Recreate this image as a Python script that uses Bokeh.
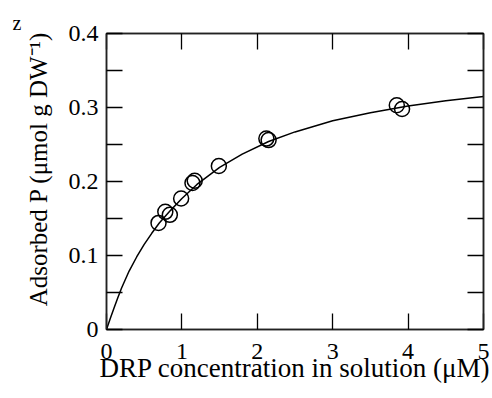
from bokeh.plotting import figure
from bokeh.models import LinearAxis, Range1d, FixedTicker, CustomJSTickFormatter
from bokeh.embed import file_html
from bokeh.resources import INLINE

# Measured points (DRP concentration µM, adsorbed P µmol g DW^-1)
obs_x = [0.69, 0.78, 0.84, 0.99, 1.14, 1.17, 1.49, 2.12, 2.15, 3.85, 3.92]
obs_y = [0.144, 0.159, 0.155, 0.177, 0.198, 0.201, 0.221, 0.258, 0.256, 0.303, 0.298]

# Fitted curve
curve_x = [0, 0.05, 0.1, 0.15, 0.2, 0.3, 0.4, 0.5, 0.6, 0.7, 0.85, 1.0, 1.2, 1.5,
           1.8, 2.15, 2.5, 3.0, 3.5, 4.0, 4.5, 5.0]
curve_y = [0, 0.015, 0.029, 0.043, 0.056, 0.079, 0.098, 0.115, 0.130, 0.144, 0.161,
           0.177, 0.196, 0.219, 0.237, 0.254, 0.267, 0.282, 0.293, 0.302, 0.309, 0.315]

x_ticks = [0, 1, 2, 3, 4, 5]
y_ticks = [0, 0.1, 0.2, 0.3, 0.4]
y_minor = [0.05, 0.15, 0.25, 0.35]

FONT = "Liberation Serif"
NB = "\u00a0"

p = figure(width=492, height=398, x_range=Range1d(0, 5), y_range=Range1d(0, 0.4),
           output_backend="svg", toolbar_location=None,
           min_border_left=106, min_border_right=9, min_border_top=33, min_border_bottom=69)
p.background_fill_color = "white"
p.border_fill_color = "white"
p.xgrid.visible = False
p.ygrid.visible = False
p.outline_line_color = "#222222"
p.outline_line_width = 1.5

p.title.text = "z"
p.title.align = "left"
p.title.offset = -94
p.title.text_font = FONT
p.title.text_font_size = "20px"
p.title.text_font_style = "normal"
p.title.text_color = "black"
p.title.standoff = 0

def style_axis(ax):
    ax.axis_line_color = "#222222"
    ax.axis_line_width = 1.5
    ax.major_tick_in = 16
    ax.major_tick_out = 0
    ax.minor_tick_in = 16
    ax.minor_tick_out = 0
    ax.major_tick_line_color = "black"
    ax.minor_tick_line_color = "black"
    ax.major_tick_line_width = 1.3
    ax.minor_tick_line_width = 1.3
    ax.major_label_text_font = FONT
    ax.major_label_text_font_size = "24px"
    ax.major_label_text_color = "black"
    ax.axis_label_text_font = FONT
    ax.axis_label_text_font_size = "26px"
    ax.axis_label_text_font_style = "normal"
    ax.axis_label_text_color = "black"

xa = p.xaxis[0]
style_axis(xa)
xa.ticker = FixedTicker(ticks=x_ticks)
xa.axis_label = "DRP concentration in solution (\u03bcM)"
xa.axis_label_text_font_size = "27px"
xa.major_label_standoff = 14
xa.axis_label_standoff = -9

ya = p.yaxis[0]
style_axis(ya)
ya.ticker = FixedTicker(ticks=y_ticks, minor_ticks=y_minor)
ya.formatter = CustomJSTickFormatter(code="return tick == 0 ? '0' : tick.toFixed(1);")
ya.axis_label = NB * 4 + "Adsorbed P (\u03bcmol g DW\u207b\u00b9)"
ya.axis_label_text_font_size = "25px"
ya.major_label_standoff = 8
ya.axis_label_standoff = 14

blank = "return '';"
top = LinearAxis(ticker=FixedTicker(ticks=x_ticks), formatter=CustomJSTickFormatter(code=blank))
style_axis(top)
top.major_label_standoff = 0
top.major_label_text_font_size = "1px"
p.add_layout(top, "above")

right = LinearAxis(ticker=FixedTicker(ticks=y_ticks, minor_ticks=y_minor),
                   formatter=CustomJSTickFormatter(code=blank))
style_axis(right)
right.major_label_standoff = 0
right.major_label_text_font_size = "1px"
p.add_layout(right, "right")

p.line(curve_x, curve_y, line_color="black", line_width=1.5)
p.scatter(obs_x, obs_y, marker="circle", size=15, fill_color=None,
          line_color="black", line_width=1.5)

open("out.html", "w").write(file_html(p, INLINE))
